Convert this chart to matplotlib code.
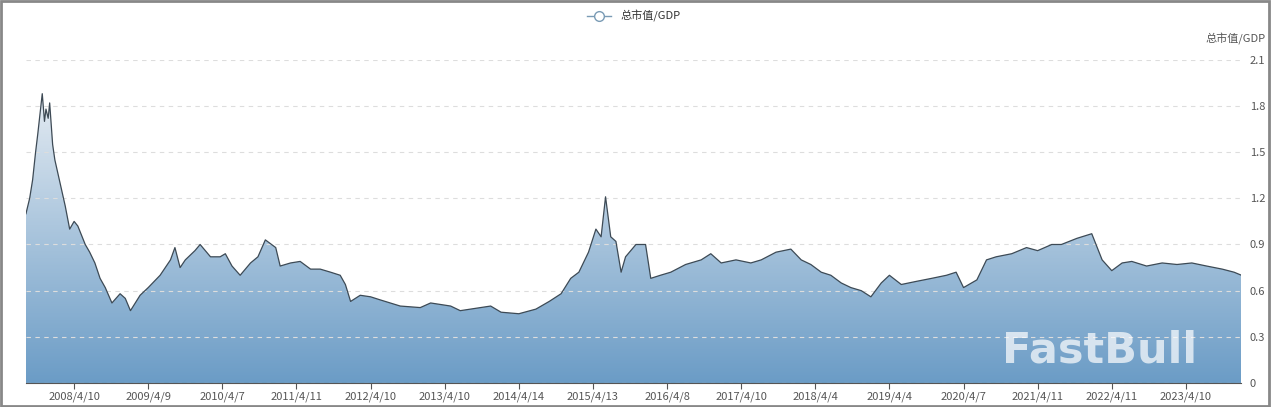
import numpy as np
import matplotlib.pyplot as plt
from matplotlib.path import Path as MPath
from matplotlib.patches import PathPatch

plt.rcParams['font.family'] = ['Noto Sans CJK SC', 'DejaVu Sans']

# time as decimal year, value = total market cap / GDP
T = [2007.63, 2007.68, 2007.72, 2007.76, 2007.79, 2007.82, 2007.85, 2007.88, 2007.90,
     2007.93, 2007.95, 2007.99, 2008.02, 2008.09, 2008.16, 2008.22, 2008.28, 2008.33,
     2008.43, 2008.49, 2008.56, 2008.63, 2008.70, 2008.79, 2008.90, 2008.97, 2009.04,
     2009.17, 2009.28, 2009.44, 2009.58, 2009.64, 2009.71, 2009.78, 2009.91, 2009.98,
     2010.12, 2010.25, 2010.32, 2010.41, 2010.52, 2010.66, 2010.76, 2010.86, 2011.00,
     2011.06, 2011.20, 2011.33, 2011.47, 2011.60, 2011.74, 2011.87, 2011.94, 2012.01,
     2012.14, 2012.28, 2012.41, 2012.68, 2012.95, 2013.09, 2013.36, 2013.49, 2013.63,
     2013.90, 2014.04, 2014.28, 2014.51, 2014.69, 2014.85, 2014.98, 2015.09, 2015.22,
     2015.32, 2015.39, 2015.45, 2015.52, 2015.59, 2015.66, 2015.72, 2015.86, 2015.99,
     2016.06, 2016.19, 2016.33, 2016.53, 2016.74, 2016.87, 2017.01, 2017.21, 2017.41,
     2017.55, 2017.75, 2017.95, 2018.09, 2018.22, 2018.36, 2018.49, 2018.63, 2018.76,
     2018.90, 2019.03, 2019.17, 2019.28, 2019.44, 2019.64, 2019.85, 2020.05, 2020.18,
     2020.28, 2020.46, 2020.59, 2020.72, 2020.93, 2021.13, 2021.28, 2021.47, 2021.60,
     2021.81, 2022.01, 2022.15, 2022.28, 2022.42, 2022.55, 2022.75, 2022.96, 2023.16,
     2023.36, 2023.56, 2023.77, 2023.93, 2024.03]
V = [1.10, 1.20, 1.32, 1.50, 1.62, 1.75, 1.88, 1.70, 1.78, 1.72, 1.82, 1.55, 1.45,
     1.30, 1.15, 1.00, 1.05, 1.02, 0.90, 0.85, 0.78, 0.68, 0.62, 0.52, 0.58, 0.55, 0.47,
     0.57, 0.62, 0.70, 0.80, 0.88, 0.75, 0.80, 0.86, 0.90, 0.82, 0.82, 0.84, 0.76,
     0.70, 0.78, 0.82, 0.93, 0.88, 0.76, 0.78, 0.79, 0.74, 0.74, 0.72, 0.70, 0.64,
     0.53, 0.57, 0.56, 0.54, 0.50, 0.49, 0.52, 0.50, 0.47, 0.48, 0.50, 0.46, 0.45,
     0.48, 0.53, 0.58, 0.68, 0.72, 0.85, 1.00, 0.95, 1.21, 0.95, 0.92, 0.72, 0.82,
     0.90, 0.90, 0.68, 0.70, 0.72, 0.77, 0.80, 0.84, 0.78, 0.80, 0.78, 0.80, 0.85,
     0.87, 0.80, 0.77, 0.72, 0.70, 0.65, 0.62, 0.60, 0.56, 0.65, 0.70, 0.64, 0.66,
     0.68, 0.70, 0.72, 0.62, 0.67, 0.80, 0.82, 0.84, 0.88, 0.86, 0.90, 0.90, 0.94,
     0.97, 0.80, 0.73, 0.78, 0.79, 0.76, 0.78, 0.77, 0.78, 0.76, 0.74, 0.72, 0.70]

TICK_POS = [2008.28 + k for k in range(16)]
TICK_LABELS = ['2008/4/10', '2009/4/9', '2010/4/7', '2011/4/11', '2012/4/10',
               '2013/4/10', '2014/4/14', '2015/4/13', '2016/4/8', '2017/4/10',
               '2018/4/4', '2019/4/4', '2020/4/7', '2021/4/11', '2022/4/11',
               '2023/4/10']
Y_TICKS = [0, 0.3, 0.6, 0.9, 1.2, 1.5, 1.8, 2.1]

fig = plt.figure(figsize=(12.72, 4.07), dpi=100)
ax = fig.add_axes([0.0204, 0.059, 0.9556, 0.794])
x0, x1 = T[0], T[-1]
ax.set_xlim(x0, x1)
ax.set_ylim(0, 2.1)

# gradient fill under the curve
grad = np.linspace(0, 1, 256).reshape(-1, 1)
cmap = plt.matplotlib.colors.LinearSegmentedColormap.from_list(
    'g', ['#6b9cc6', '#e4ebf2'])
img = ax.imshow(grad, extent=[x0, x1, 0, max(V)], origin='lower', aspect='auto',
                cmap=cmap, zorder=1)
verts = [(x0, 0)] + list(zip(T, V)) + [(x1, 0), (x0, 0)]
clip = PathPatch(MPath(verts), transform=ax.transData, facecolor='none',
                 edgecolor='none')
ax.add_patch(clip)
img.set_clip_path(clip)
ax.plot(T, V, color='#3d4a55', lw=0.9, zorder=3)

ax.yaxis.tick_right()
ax.set_yticks(Y_TICKS)
ax.set_yticklabels(['0', '0.3', '0.6', '0.9', '1.2', '1.5', '1.8', '2.1'])
ax.set_xticks(TICK_POS)
ax.set_xticklabels(TICK_LABELS)
ax.tick_params(axis='y', length=0, labelsize=8, colors='#555555', pad=6)
ax.tick_params(axis='x', length=4, labelsize=8, colors='#555555', pad=2)
for t in ax.get_xticklines():
    t.set_color('#666666')
ax.grid(axis='y', ls=(0, (4, 4)), color='#dddddd', lw=0.8, zorder=0)
for s in ['top', 'right', 'left']:
    ax.spines[s].set_visible(False)
ax.spines['bottom'].set_color('#555555')

ax.text(0.995, 1.045, '总市值/GDP', transform=ax.transAxes, ha='center',
        va='bottom', fontsize=8, color='#555555')

ax.plot([], [], color='#7a9bb5', marker='o', mfc='white', ms=7, lw=1,
        label='总市值/GDP')
ax.legend(loc='center', bbox_to_anchor=(0.5, 1.135), frameon=False,
          fontsize=8, handlelength=2.2, labelcolor='#333333')

ax.text(0.883, 0.035, 'FastBull', transform=ax.transAxes, ha='center',
        va='bottom', fontsize=31, fontweight='bold', color='white', alpha=0.7,
        zorder=4, family='DejaVu Sans')

fig.patches.append(plt.Rectangle((0.001, 0.002), 0.997, 0.995,
                                 transform=fig.transFigure, fill=False,
                                 edgecolor='#888888', lw=2))
fig.savefig('out.png', dpi=100)
